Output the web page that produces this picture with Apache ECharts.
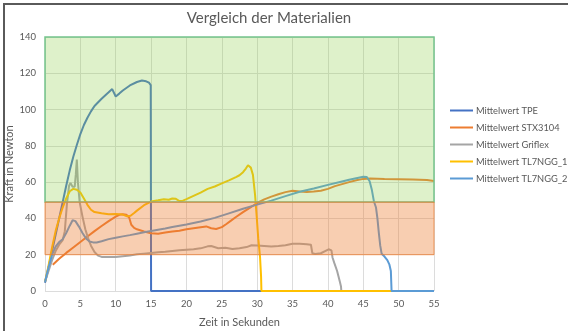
<!DOCTYPE html>
<html>
<head>
<meta charset="utf-8">
<script src="https://cdn.jsdelivr.net/npm/echarts@6/dist/echarts.min.js"></script>
<style>
  html, body { margin: 0; padding: 0; background: #fff; }
  #chart { width: 568px; height: 331px; }
</style>
</head>
<body>
<div id="chart"></div>
<script>
// Zeit (s) und Kraft (N) je Material
const tpeTime  = [0, 0.5, 1, 1.5, 2, 2.5, 3, 3.5, 4, 4.5, 5, 5.5, 6, 6.5, 7, 8, 9, 9.5, 10, 10.5, 11, 12, 13, 13.7, 14.3, 14.7, 14.95, 15, 25, 40, 55];
const tpeForce = [4.5, 13, 22, 31, 40, 49, 58, 66.5, 74, 80.5, 86.5, 91.5, 95.5, 99, 102, 106, 109.5, 111.3, 107.2, 108.8, 110.5, 113.3, 115.2, 116, 115.6, 114.8, 113.5, 0, 0, 0, 0];

const stxTime  = [1.1, 2, 3, 4, 5, 6, 7, 8, 9, 10, 10.5, 11, 11.5, 11.9, 12.2, 12.6, 13, 14, 15, 16, 17, 18, 19, 20, 21, 22, 22.8, 23.5, 24.2, 25, 25.6, 26.3, 27, 28, 29, 30, 31, 32, 33, 34, 35, 36, 37, 38, 39, 40, 41, 42, 43, 44, 45, 46, 48, 50, 52, 54, 55];
const stxForce = [14.5, 17.8, 21, 24, 27, 30, 33, 35.8, 38.5, 41, 42, 42.3, 42, 40.5, 36.5, 34.8, 34, 32.8, 31.8, 31.5, 32.2, 32.8, 33.2, 34, 34.6, 35.2, 35.6, 34.6, 34.2, 35.2, 36.8, 38.8, 40.8, 43.5, 46, 48.5, 50.5, 52, 53.3, 54.5, 55.2, 54.8, 54.6, 54.8, 55.3, 56.3, 57.8, 58.9, 60, 61, 61.8, 62, 61.7, 61.6, 61.5, 61.2, 60.6];

const griflexTime  = [0, 0.5, 1, 1.5, 2, 2.5, 2.8, 3.1, 3.4, 3.6, 3.9, 4.2, 4.35, 4.5, 4.65, 4.9, 5.3, 5.7, 6.1, 6.5, 7, 7.5, 8, 9, 10, 11, 12, 13, 14, 15, 16, 17, 18, 19, 20, 21, 22, 23, 23.5, 24.5, 25.5, 26.5, 27.5, 28.5, 29.2, 30, 31, 32, 33, 34, 35, 36, 37, 37.6, 37.8, 38.2, 39, 39.6, 40.1, 40.5, 40.65, 40.9, 41.1, 41.3, 41.5, 41.7, 41.85, 41.9];
const griflexForce = [5, 11, 17, 22, 25.5, 28, 33, 48, 58, 59.5, 57.5, 57.5, 64, 72.5, 60, 49, 41, 34, 29, 25, 21.5, 19.5, 18.8, 18.8, 18.8, 19.2, 19.6, 20.2, 20.6, 21, 21.3, 21.6, 22, 22.4, 22.8, 23, 23.5, 24.6, 24.8, 23.6, 23.8, 23.2, 23.6, 24.2, 25.2, 25.1, 24.8, 24.5, 24.8, 25.2, 26, 26, 25.8, 25.5, 20.8, 20.4, 20.8, 22, 23, 22.4, 18.5, 15.5, 14.5, 11, 8, 5, 2.5, 0];

const tl1Time  = [0, 0.5, 1, 1.5, 2, 2.5, 3, 3.5, 4, 4.5, 5, 5.5, 6, 6.5, 7, 8, 9, 10, 11, 11.6, 12.1, 12.6, 13, 14, 15, 16, 16.8, 17.5, 18, 18.5, 19, 19.5, 20, 21, 22, 23, 24, 25, 26, 27, 27.5, 28, 28.4, 28.7, 29.1, 29.4, 29.7, 29.95, 30.15, 30.4, 30.55, 30.6, 49];
const tl1Force = [5, 14, 24, 33, 40, 46, 51, 55, 56.3, 55.8, 54.3, 51, 47.5, 44.8, 43.5, 42.8, 42.3, 42.5, 42.1, 41.2, 41.5, 43, 44.3, 47.3, 49.3, 50, 50.6, 50.3, 51, 50.8, 49.6, 49.8, 50.6, 52.4, 54.2, 56.3, 57.6, 59.3, 61, 62.8, 63.8, 65.5, 67.5, 69.3, 68, 64, 53, 40, 29, 19, 8, 0, 0];

const tl2Time  = [0, 0.5, 1, 1.5, 2, 2.5, 3, 3.5, 3.9, 4.3, 4.8, 5.3, 5.8, 6.3, 6.8, 7.3, 8, 9, 10, 11, 12, 13, 14, 15, 16, 17, 18, 19, 20, 22, 24, 26, 28, 30, 32, 34, 36, 38, 40, 42, 43, 44, 45, 45.5, 45.9, 46.2, 46.5, 46.8, 47.0, 47.2, 47.4, 47.6, 48.0, 48.4, 48.7, 48.9, 49.0, 55];
const tl2Force = [5, 13, 20, 24.5, 27, 28.5, 32, 36, 39, 38.5, 35.5, 32, 29, 27.3, 26.8, 26.7, 27.4, 28.6, 29.4, 30.1, 30.8, 31.6, 32.4, 33.1, 33.8, 34.5, 35.3, 36, 36.7, 38.3, 40.3, 42.8, 45.3, 47.6, 49.8, 52.3, 54.7, 56.5, 58.5, 60.4, 61.3, 62.2, 63, 62.8, 60.5, 56, 49.5, 46, 40, 32, 25, 20.5, 19, 17, 14.5, 11, 0, 0];

// Bewertungsbereiche (N)
const upperBand = [49, 140];
const lowerBand = [20, 49];

const seriesNames  = ['Mittelwert TPE', 'Mittelwert STX3104', 'Mittelwert Griflex', 'Mittelwert TL7NGG_1', 'Mittelwert TL7NGG_2'];
const seriesColors = ['#4472C4', '#ED7D31', '#A5A5A5', '#FFC000', '#5B9BD5'];
const seriesData = [
  [tpeTime, tpeForce],
  [stxTime, stxForce],
  [griflexTime, griflexForce],
  [tl1Time, tl1Force],
  [tl2Time, tl2Force]
];

const zip = (xs, ys) => xs.map((x, i) => [x, ys[i]]);
const font = 'Lato, "Open Sans", sans-serif';
const textColor = '#595959';

const lineSeries = seriesNames.map((name, i) => ({
  name,
  type: 'line',
  data: zip(seriesData[i][0], seriesData[i][1]),
  symbol: 'none',
  lineStyle: { width: 2, color: seriesColors[i] },
  itemStyle: { color: seriesColors[i] },
  z: 2
}));

// Transparente Bereiche liegen über den Kurven
lineSeries.push({
  name: 'bands',
  type: 'line',
  data: [],
  silent: true,
  markArea: {
    silent: true,
    z: 5,
    data: [
      [{ yAxis: upperBand[0], xAxis: 0, itemStyle: { color: 'rgba(146,208,80,0.30)', borderColor: '#74C48C', borderWidth: 1.5 } }, { yAxis: upperBand[1], xAxis: 55 }],
      [{ yAxis: lowerBand[0], xAxis: 0, itemStyle: { color: 'rgba(237,125,49,0.38)', borderColor: 'rgba(237,125,49,0.75)', borderWidth: 1 } }, { yAxis: lowerBand[1], xAxis: 55 }]
    ]
  }
});

const chart = echarts.init(document.getElementById('chart'));
chart.setOption({
  animation: false,
  backgroundColor: '#fff',
  title: {
    text: 'Vergleich der Materialien',
    left: 264,
    textAlign: 'center',
    top: 6,
    textStyle: { fontFamily: font, fontSize: 15, fontWeight: 'normal', color: textColor }
  },
  legend: {
    data: seriesNames,
    orient: 'vertical',
    left: 445,
    top: 101,
    icon: 'rect',
    itemWidth: 23,
    itemHeight: 2,
    itemGap: 8,
    padding: [5, 0, 5, 5],
    textStyle: { fontFamily: font, fontSize: 9.3, color: textColor, padding: [0, 0, 0, -2] }
  },
  grid: { left: 45, right: 134, top: 37, bottom: 40, containLabel: false, outerBoundsMode: 'none' },
  xAxis: {
    type: 'value', min: 0, max: 55, interval: 5,
    name: 'Zeit in Sekunden', nameLocation: 'middle', nameGap: 26,
    nameMoveOverlap: false,
    nameTextStyle: { fontFamily: font, fontSize: 11, color: textColor },
    axisLine: { show: false }, axisTick: { show: false },
    axisLabel: { fontFamily: font, fontSize: 9.5, color: textColor, margin: 8 },
    splitLine: { show: true, lineStyle: { color: '#DCDCDC', width: 1 } }
  },
  yAxis: {
    type: 'value', min: 0, max: 140, interval: 20,
    name: 'Kraft in Newton', nameLocation: 'middle', nameGap: 30,
    nameMoveOverlap: false,
    nameTextStyle: { fontFamily: font, fontSize: 11, color: textColor },
    axisLine: { show: false }, axisTick: { show: false },
    axisLabel: { fontFamily: font, fontSize: 9.5, color: textColor, margin: 9 },
    splitLine: { show: true, lineStyle: { color: '#DCDCDC', width: 1 } }
  },
  graphic: [{
    type: 'polyline',
    shape: { points: [[4, 331], [4, 4], [568, 4]] },
    style: { stroke: '#5a5a5a', lineWidth: 2, fill: null },
    silent: true
  }],
  series: lineSeries
});
</script>
</body>
</html>
